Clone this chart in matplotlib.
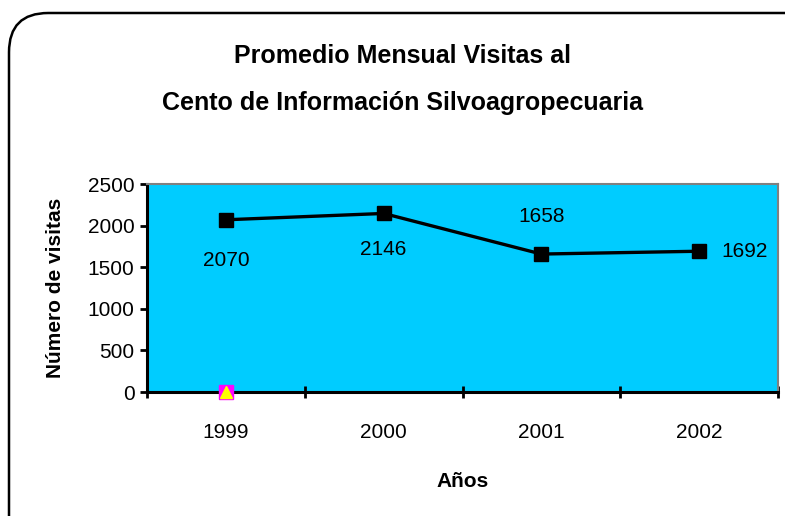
import matplotlib.pyplot as plt
from matplotlib.patches import FancyBboxPatch

years = ['1999', '2000', '2001', '2002']
visits = [2070, 2146, 1658, 1692]
other = [0]  # second series, only 1999

plt.rcParams['font.family'] = ['Liberation Sans Narrow', 'Liberation Sans', 'DejaVu Sans']

W, H = 785, 516
fig = plt.figure(figsize=(W / 100, H / 100), dpi=100)

# rounded chart frame (runs off the right and bottom edges)
frame = FancyBboxPatch((9 / W, -40 / H), (W + 40) / W, (H - 13 + 40) / H,
                       boxstyle='round,pad=0,rounding_size=0.05',
                       transform=fig.transFigure, fc='none', ec='black', lw=1.8,
                       mutation_aspect=W / H, zorder=-1)
fig.patches.append(frame)

ax = fig.add_axes([147 / W, (H - 392) / H, (778 - 147) / W, (392 - 184) / H])
ax.set_facecolor('#00CCFF')
x = list(range(len(years)))
ax.plot(x, visits, color='black', lw=2.4, marker='s', ms=10, zorder=3)
ax.plot(x[:1], other, marker='s', ms=10, color='#FF00FF', ls='none', zorder=4, clip_on=False)
ax.plot(x[:1], other, marker='^', ms=8, color='#FFFF00', ls='none', zorder=5, clip_on=False)

ax.set_xlim(-0.5, 3.5)
ax.set_ylim(0, 2500)
ax.set_yticks(range(0, 2501, 500))
ax.set_xticks(x)
ax.set_xticklabels(years, fontsize=15)
ax.set_xticks([-0.5, 0.5, 1.5, 2.5, 3.5], minor=True)
ax.tick_params(axis='x', which='major', length=0, pad=22)
ax.tick_params(axis='x', which='minor', length=8, width=2, direction='inout')
ax.tick_params(axis='y', labelsize=15, length=5, width=2, direction='out', pad=4)

for s in ['left', 'bottom']:
    ax.spines[s].set_linewidth(2.2)
for s in ['top', 'right']:
    ax.spines[s].set_color('#808080')
    ax.spines[s].set_linewidth(1.5)

offsets = [(0, -29, 'center'), (0, -26, 'center'), (0, 27, 'center'), (16, 0, 'left')]
for xi, v, (dx, dy, ha) in zip(x, visits, offsets):
    ax.annotate(str(v), (xi, v), xytext=(dx, dy), textcoords='offset points',
                ha=ha, va='center', fontsize=15)

ax.set_ylabel('Número de visitas', fontsize=15, fontweight='bold', labelpad=16)
ax.set_xlabel('Años', fontsize=15, fontweight='bold', labelpad=22)

fig.text(403 / W, 1 - 56 / H, 'Promedio Mensual Visitas al', ha='center', va='center',
         fontsize=18, fontweight='bold')
fig.text(403 / W, 1 - 103 / H, 'Cento de Información Silvoagropecuaria', ha='center',
         va='center', fontsize=18, fontweight='bold')

fig.savefig('out.png', dpi=100)
